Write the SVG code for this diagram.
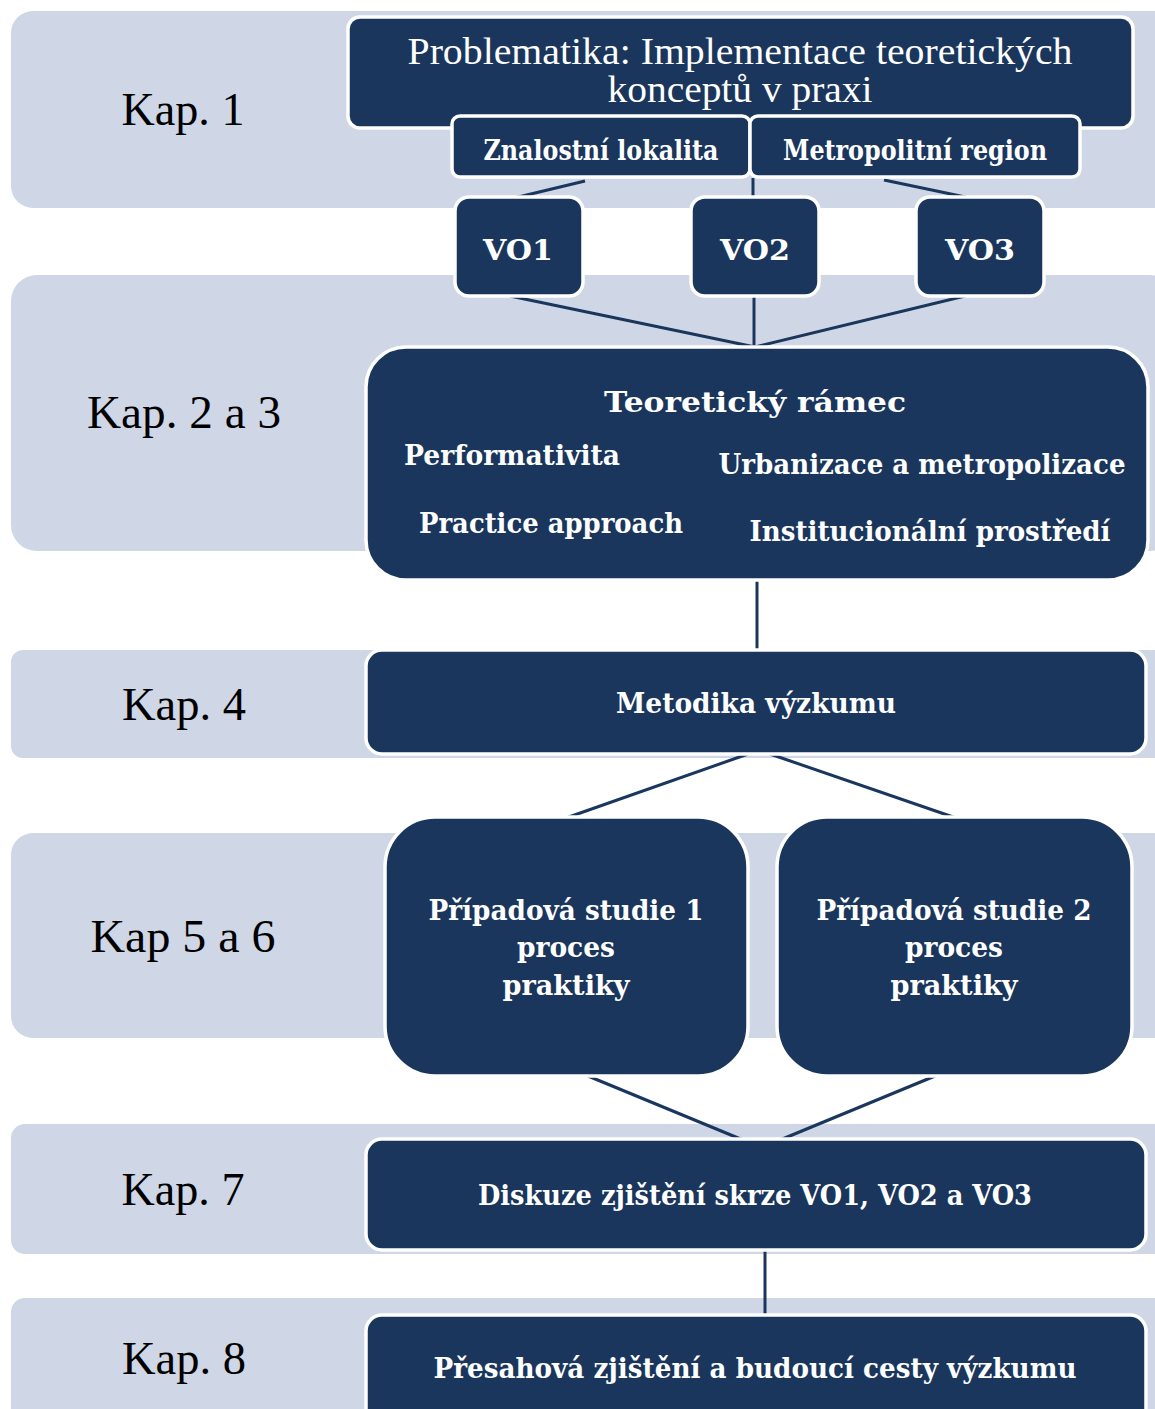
<svg xmlns="http://www.w3.org/2000/svg" width="1155" height="1409" viewBox="0 0 1155 1409">
<style>
.band{fill:#CFD7E6}
.box{fill:#1A365D;stroke:#FFFFFF;stroke-width:3.5}
.kap{font-family:"Liberation Serif","DejaVu Serif",serif;font-size:47px;fill:#000;text-anchor:middle}
.t{font-family:"DejaVu Serif","Liberation Serif",serif;font-weight:bold;fill:#FFFFFF;text-anchor:middle;font-size:28px}
.r{font-family:"Liberation Serif","DejaVu Serif",serif;fill:#FFFFFF;text-anchor:middle;font-size:37px}
.c{stroke:#1A365D;stroke-width:3;fill:none}
</style>
<rect width="1155" height="1409" fill="#FFFFFF"/>
<g id="bands">
<rect class="band" x="11" y="11" width="1165" height="197" rx="22"/>
<rect class="band" x="11" y="275" width="1165" height="276" rx="26"/>
<rect class="band" x="11" y="650" width="1165" height="108" rx="12"/>
<rect class="band" x="11" y="833" width="1165" height="205" rx="22"/>
<rect class="band" x="11" y="1124" width="1165" height="130" rx="14"/>
<rect class="band" x="11" y="1298" width="1165" height="140" rx="14"/>
</g>
<g id="labels">
<text class="kap" x="183" y="125" textLength="123" lengthAdjust="spacingAndGlyphs">Kap. 1</text>
<text class="kap" x="184" y="428" textLength="194" lengthAdjust="spacingAndGlyphs">Kap. 2 a 3</text>
<text class="kap" x="184" y="720" textLength="124" lengthAdjust="spacingAndGlyphs">Kap. 4</text>
<text class="kap" x="183" y="952" textLength="185" lengthAdjust="spacingAndGlyphs">Kap 5 a 6</text>
<text class="kap" x="183" y="1205" textLength="123" lengthAdjust="spacingAndGlyphs">Kap. 7</text>
<text class="kap" x="184" y="1374" textLength="124" lengthAdjust="spacingAndGlyphs">Kap. 8</text>
</g>
<g id="connectors">
<line class="c" x1="585" y1="181" x2="510" y2="199"/>
<line class="c" x1="753" y1="178" x2="753" y2="198"/>
<line class="c" x1="884" y1="180" x2="970" y2="198"/>
<line class="c" x1="510" y1="296" x2="755" y2="347"/>
<line class="c" x1="754" y1="297" x2="754" y2="347"/>
<line class="c" x1="965" y1="296" x2="755" y2="347"/>
<line class="c" x1="757" y1="580" x2="757" y2="651"/>
<line class="c" x1="748" y1="754" x2="566" y2="818"/>
<line class="c" x1="770" y1="754" x2="956" y2="818"/>
<line class="c" x1="588" y1="1076" x2="743" y2="1140"/>
<line class="c" x1="935" y1="1076" x2="780" y2="1140"/>
<line class="c" x1="765" y1="1250" x2="765" y2="1316"/>
</g>
<g id="problematika">
<rect class="box" x="348" y="17" width="785" height="111" rx="12"/>
<text class="r" x="740" y="64" textLength="665" lengthAdjust="spacingAndGlyphs">Problematika: Implementace teoretických</text>
<text class="r" x="740" y="102" textLength="265" lengthAdjust="spacingAndGlyphs">konceptů v praxi</text>
</g>
<g id="znalostni">
<rect class="box" x="452" y="116" width="298" height="61" rx="8"/>
<text class="t" x="601" y="160" textLength="235" lengthAdjust="spacingAndGlyphs">Znalostní lokalita</text>
</g>
<g id="metropolitni">
<rect class="box" x="750" y="116" width="330" height="61" rx="8"/>
<text class="t" x="915" y="160" textLength="264" lengthAdjust="spacingAndGlyphs">Metropolitní region</text>
</g>
<g id="vo1">
<rect class="box" x="455" y="197" width="128" height="99" rx="14"/>
<text class="t" x="518" y="260" font-size="37" textLength="70" lengthAdjust="spacingAndGlyphs">VO1</text>
</g>
<g id="vo2">
<rect class="box" x="691" y="197" width="128" height="99" rx="14"/>
<text class="t" x="755" y="260" font-size="37" textLength="70" lengthAdjust="spacingAndGlyphs">VO2</text>
</g>
<g id="vo3">
<rect class="box" x="916" y="197" width="128" height="99" rx="14"/>
<text class="t" x="980" y="260" font-size="37" textLength="70" lengthAdjust="spacingAndGlyphs">VO3</text>
</g>
<g id="teoreticky">
<rect class="box" x="366" y="347" width="782" height="233" rx="40"/>
<text class="t" x="755" y="412" font-size="34" textLength="302" lengthAdjust="spacingAndGlyphs">Teoretický rámec</text>
<text class="t" x="512" y="465" font-size="29" textLength="216" lengthAdjust="spacingAndGlyphs">Performativita</text>
<text class="t" x="922" y="474" font-size="29" textLength="407" lengthAdjust="spacingAndGlyphs">Urbanizace a metropolizace</text>
<text class="t" x="551" y="533" font-size="29" textLength="264" lengthAdjust="spacingAndGlyphs">Practice approach</text>
<text class="t" x="930" y="541" font-size="29" textLength="361" lengthAdjust="spacingAndGlyphs">Institucionální prostředí</text>
</g>
<g id="metodika">
<rect class="box" x="366" y="650" width="780" height="104" rx="16"/>
<text class="t" x="756" y="713" textLength="280" lengthAdjust="spacingAndGlyphs">Metodika výzkumu</text>
</g>
<g id="studie1">
<rect class="box" x="385" y="817" width="363" height="259" rx="50"/>
<text class="t" x="566" y="920" font-size="29" textLength="275" lengthAdjust="spacingAndGlyphs">Případová studie 1</text>
<text class="t" x="566" y="957" font-size="29" textLength="98" lengthAdjust="spacingAndGlyphs">proces</text>
<text class="t" x="566" y="995" font-size="29" textLength="127" lengthAdjust="spacingAndGlyphs">praktiky</text>
</g>
<g id="studie2">
<rect class="box" x="777" y="817" width="355" height="259" rx="50"/>
<text class="t" x="954" y="920" font-size="29" textLength="275" lengthAdjust="spacingAndGlyphs">Případová studie 2</text>
<text class="t" x="954" y="957" font-size="29" textLength="98" lengthAdjust="spacingAndGlyphs">proces</text>
<text class="t" x="954" y="995" font-size="29" textLength="127" lengthAdjust="spacingAndGlyphs">praktiky</text>
</g>
<g id="diskuze">
<rect class="box" x="366" y="1139" width="780" height="111" rx="16"/>
<text class="t" x="755" y="1205" textLength="554" lengthAdjust="spacingAndGlyphs">Diskuze zjištění skrze VO1, VO2 a VO3</text>
</g>
<g id="presahova">
<rect class="box" x="366" y="1315" width="780" height="130" rx="16"/>
<text class="t" x="755" y="1378" textLength="643" lengthAdjust="spacingAndGlyphs">Přesahová zjištění a budoucí cesty výzkumu</text>
</g>
</svg>
